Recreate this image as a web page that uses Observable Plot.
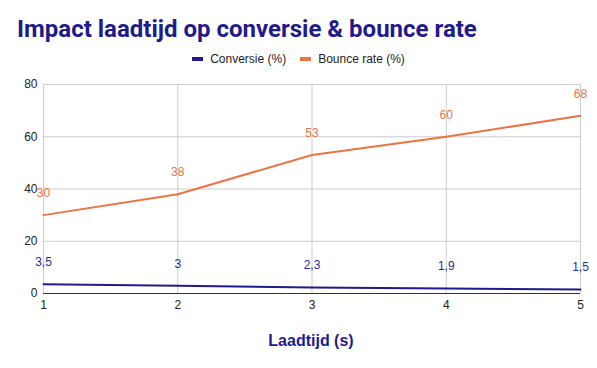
<!DOCTYPE html>
<html><head><meta charset="utf-8">
<script src="https://cdn.jsdelivr.net/npm/d3@7"></script>
<script src="https://cdn.jsdelivr.net/npm/@observablehq/plot@0.6"></script>
<style>
body{margin:0;background:#fff;}
#wrap{position:relative;width:597px;height:368px;overflow:hidden;font-family:"Liberation Sans",Arial,sans-serif;}
#title{position:absolute;left:17px;top:15px;font-family:Roboto,sans-serif;font-weight:700;font-size:24px;line-height:1.172;color:#1f1b8c;white-space:nowrap;}
#legend{position:absolute;left:0;width:597px;top:52px;text-align:center;font-size:12px;color:#222;}
#legend span.sw{display:inline-block;width:11px;height:4px;vertical-align:middle;margin-right:7px;margin-top:-2px}
#legend span.it{margin:0 7px}
#xt{position:absolute;left:0;width:622px;top:332px;text-align:center;font-weight:700;font-size:16px;color:#1f1b8c;}
</style></head>
<body><div id="wrap"><div id="title">Impact laadtijd op conversie &amp; bounce rate</div>
<div id="legend"></div><div id="xt">Laadtijd (s)</div></div>
<script>
const laadtijd = [1, 2, 3, 4, 5];
const conversie = [3.5, 3, 2.3, 1.9, 1.5];
const bounce = [30, 38, 53, 60, 68];
const yTicks = [0, 20, 40, 60, 80];
const seriesNames = ["Conversie (%)", "Bounce rate (%)"];
const colors = ["#1f1b8c", "#ee7343"];

const fmt = v => String(v).replace(".", ",");
const dConv = laadtijd.map((x, i) => ({x, y: conversie[i]}));
const dBounce = laadtijd.map((x, i) => ({x, y: bounce[i]}));

const legend = document.getElementById("legend");
seriesNames.forEach((n, i) => {
  const s = document.createElement("span"); s.className = "it";
  s.innerHTML = `<span class="sw" style="background:${colors[i]}"></span>${n}`;
  legend.appendChild(s);
});

const chart = Plot.plot({
  width: 597, height: 368,
  marginLeft: 43, marginRight: 17, marginTop: 84, marginBottom: 75,
  style: {fontFamily: '"Liberation Sans", Arial, sans-serif', fontSize: "12px", color: "#222", background: "transparent"},
  x: {domain: [1, 5]},
  y: {domain: [0, 80]},
  marks: [
    Plot.ruleX(laadtijd, {stroke: "#cccccc", strokeWidth: 1}),
    Plot.ruleY(yTicks.slice(1), {stroke: "#cccccc", strokeWidth: 1}),
    Plot.axisX(laadtijd, {tickSize: 0, tickPadding: 7, label: null, fontSize: 12, fill: "#222", tickFormat: d => d}),
    Plot.axisY(yTicks, {tickSize: 0, tickPadding: 6, label: null, fontSize: 12, fill: "#222"}),
    Plot.ruleY([0], {stroke: "#333", strokeWidth: 1}),
    Plot.line(dConv, {x: "x", y: "y", stroke: colors[0], strokeWidth: 2}),
    Plot.line(dBounce, {x: "x", y: "y", stroke: colors[1], strokeWidth: 2}),
    Plot.text(dConv, {x: "x", y: "y", text: d => fmt(d.y), dy: -22, fill: "#2a2a99", fontSize: 12}),
    Plot.text(dBounce, {x: "x", y: "y", text: d => fmt(d.y), dy: -22, fill: colors[1], fontSize: 12})
  ]
});
chart.style.position = "absolute"; chart.style.left = "0"; chart.style.top = "0";
document.getElementById("wrap").appendChild(chart);
</script></body></html>
